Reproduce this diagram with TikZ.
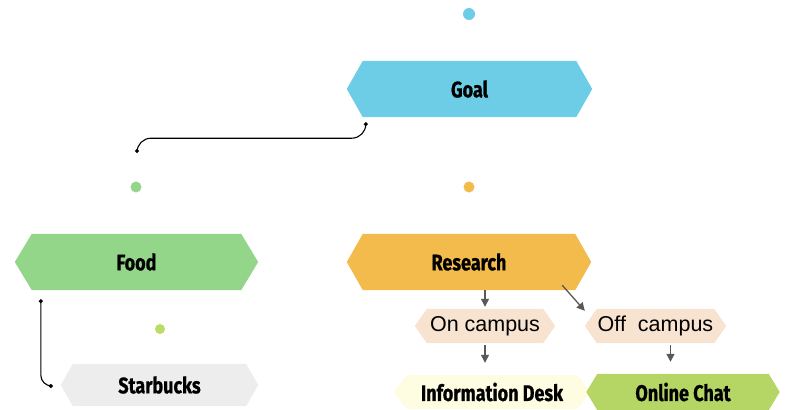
\documentclass[tikz,border=0pt]{standalone}
\usepackage{fontspec}
\setmainfont{Liberation Sans}
\newfontfamily\lab{Fira Sans}[FakeStretch=0.8,BoldFeatures={FakeBold=0.8}]
\usetikzlibrary{arrows.meta,backgrounds,calc}
\definecolor{cgoal}{HTML}{6DCDE6}
\definecolor{cfood}{HTML}{93D68A}
\definecolor{cres}{HTML}{F2BB4B}
\definecolor{cstar}{HTML}{EDEDED}
\definecolor{cinfo}{HTML}{FEFDE1}
\definecolor{cchat}{HTML}{B5D565}
\definecolor{ccamp}{HTML}{F7E3D0}
\definecolor{cdotg}{HTML}{BBDB63}
\definecolor{carrow}{HTML}{595959}
\tikzset{
  hexlab/.style={inner sep=0pt, font=\lab\bfseries\fontsize{22.5}{26}\selectfont, text=black},
  camplab/.style={inner sep=0pt, font=\fontsize{21.5}{25}\selectfont, text=black},
  dotnode/.style={circle, inner sep=0pt, minimum size=#1},
  conn/.style={draw=black, line width=1.1pt, {Circle[length=4pt]}-{Circle[length=4pt]}},
  garrow/.style={draw=carrow, line width=1.3pt, -{Triangle[length=8pt,width=8pt]}}
}
\newcommand\hexbox[9]{%
  \node[#9, minimum width=#4pt, minimum height=#5pt] (#1) at (#2,#3) {#8};
  \begin{scope}[on background layer]
    \fill[#7] (#1.west) -- ([xshift=#6pt]#1.north west) -- ([xshift=-#6pt]#1.north east)
      -- (#1.east) -- ([xshift=-#6pt]#1.south east) -- ([xshift=#6pt]#1.south west) -- cycle;
  \end{scope}}
\begin{document}
\begin{tikzpicture}[x=1pt,y=-1pt]
\useasboundingbox (0,0) rectangle (788,410);
% boxes
\hexbox{goal}{469.5}{89}{245}{56}{16}{cgoal}{Goal}{hexlab}
\hexbox{food}{136.5}{262}{243}{56}{17}{cfood}{Food}{hexlab}
\hexbox{research}{469}{262}{244}{56}{16}{cres}{Research}{hexlab}
\hexbox{starbucks}{159.5}{385}{197}{42}{12}{cstar}{Starbucks}{hexlab}
\hexbox{oncamp}{485}{326}{140}{34}{12}{ccamp}{\raisebox{-1pt}{On campus}}{camplab}
\hexbox{offcamp}{655.5}{326}{141}{34}{12}{ccamp}{\raisebox{-1pt}{Off\ \ campus}}{camplab}
\hexbox{infodesk}{492}{392}{196}{34}{13}{cinfo}{Information Desk}{hexlab}
\hexbox{onlinechat}{683}{392}{193}{36}{11}{cchat}{Online Chat}{hexlab}
% dots
\node[dotnode=12pt, fill=cgoal] (goaldot) at (469,14) {};
\node[dotnode=11pt, fill=cfood] (fooddot) at (136,187) {};
\node[dotnode=11pt, fill=cres] (resdot) at (469,187) {};
\node[dotnode=10pt, fill=cdotg] (stardot) at (160,329) {};
% connectors
\coordinate (foodin) at (137,153);
\coordinate (sbin) at ([shift={(-8,1)}]starbucks.west);
\draw[conn, rounded corners=14pt] ([shift={(19,5)}]goal.south west) -- ++(0,16) -| (foodin);
\draw[conn, rounded corners=11pt] ([shift={(26,9)}]food.south west) |- (sbin);
\draw[garrow] (research.south -| oncamp.north) -- ([yshift=2pt]oncamp.north);
\draw[garrow] ([shift={(-29,-5)}]research.south east) -- ([shift={(0,2)}]offcamp.north west);
\draw[garrow] ([yshift=-2pt]oncamp.south) -- ([yshift=12pt]infodesk.north -| oncamp.south);
\draw[garrow] ([shift={(15,2)}]offcamp.south) -- ([shift={(15,-12)}]offcamp.south |- onlinechat.north);
\end{tikzpicture}
\end{document}
